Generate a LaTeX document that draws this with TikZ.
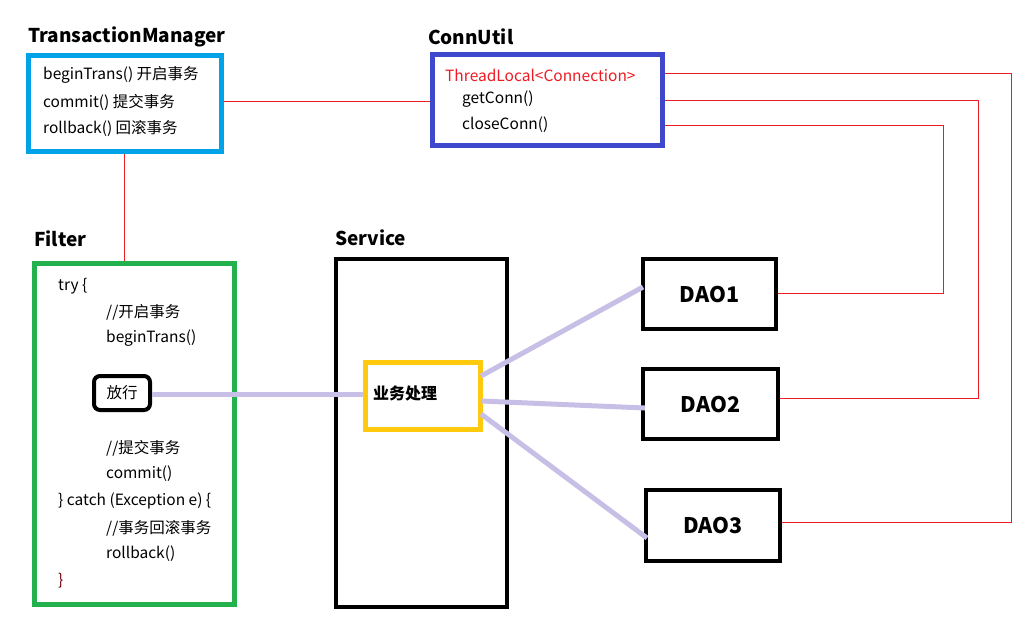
\documentclass[tikz,border=0pt]{standalone}
\usepackage{fontspec}
\setmainfont{Noto Sans CJK SC}
\usetikzlibrary{calc}
\pgfdeclarelayer{bg}
\pgfsetlayers{bg,main}
\definecolor{tmcol}{HTML}{00A2E8}
\definecolor{cucol}{HTML}{3F48CC}
\definecolor{flcol}{HTML}{22B14C}
\definecolor{bizcol}{HTML}{FFC90E}
\definecolor{purcol}{HTML}{C8BFE7}
\definecolor{redcol}{HTML}{ED1C24}
\definecolor{brcol}{HTML}{6A0010}
\tikzset{
  title/.style={anchor=west,inner sep=0pt,font=\fontsize{19}{21}\selectfont\bfseries},
  txt/.style={anchor=west,inner sep=0pt,font=\fontsize{15.5}{17}\selectfont},
  box/.style={draw,fill=white,inner sep=0pt},
  daobox/.style={box,line width=4pt,font=\fontsize{21.5}{23}\selectfont\bfseries},
  redline/.style={draw=redcol,line width=0.8pt},
  purline/.style={draw=purcol,line width=5pt},
}
\begin{document}
\begin{tikzpicture}[x=1pt,y=-1pt]
\useasboundingbox (0,0) rectangle (1035,633);
% boxes
\node[box,draw=tmcol,line width=5pt,minimum width=193pt,minimum height=96pt] (tm) at (125,103.5) {};
\node[box,draw=cucol,line width=5pt,minimum width=230pt,minimum height=91pt] (cu) at (547.5,100) {};
\node[box,draw=flcol,line width=5pt,minimum width=200pt,minimum height=341pt] (fl) at (134.5,434) {};
\node[box,draw=black,line width=4pt,minimum width=171pt,minimum height=348pt] (sv) at (421.5,433) {};
\node[box,draw=bizcol,line width=5pt,minimum width=115pt,minimum height=67pt] (biz) at (423,396) {};
\node[box,draw=black,line width=4pt,rounded corners=6pt,minimum width=56pt,minimum height=34pt,font=\fontsize{15.5}{17}\selectfont] (fx) at (122,393) {放行};
\node[daobox,minimum width=133pt,minimum height=70pt] (dao1) at (709.5,294) {DAO1};
\node[daobox,minimum width=135pt,minimum height=70pt] (dao2) at (710.5,404) {DAO2};
\node[daobox,minimum width=134pt,minimum height=71pt] (dao3) at (713,525.5) {DAO3};
% titles
\node[title] (ttm) at (28,37) {TransactionManager};
\node[title] (tcu) at (428,37) {ConnUtil};
\node[title] (tfl) at (34,239) {Filter};
\node[title] (tsv) at (335,238) {Service};
% TM text
\node[txt] (tm1) at (43,75) {beginTrans() 开启事务};
\node[txt] (tm2) at (43,102) {commit() 提交事务};
\node[txt] (tm3) at (43,128) {rollback() 回滚事务};
% ConnUtil text
\node[txt,text=redcol] (cu1) at (445,75) {ThreadLocal<Connection>};
\node[txt] (cu2) at (462,99) {getConn()};
\node[txt] (cu3) at (462,125) {closeConn()};
% Filter text
\node[txt] (f1) at (58,286) {try \{};
\node[txt] (f2) at (106,312) {//开启事务};
\node[txt] (f3) at (106,338) {beginTrans()};
\node[txt] (f4) at (106,448) {//提交事务};
\node[txt] (f5) at (106,474) {commit()};
\node[txt] (f6) at (58,501) {\} catch (Exception e) \{};
\node[txt] (f7) at (106,528) {//事务回滚事务};
\node[txt] (f8) at (106,554) {rollback()};
\node[txt,text=brcol] (f9) at (58,581) {\}};
% business
\node[anchor=west,inner sep=0pt,font=\fontsize{16}{18}\selectfont\bfseries] (bizt) at (373,393) {业务处理};
% connectors
\coordinate (r1) at (943,0);
\coordinate (r2) at (978,0);
\coordinate (r3) at (1011,0);
\begin{pgfonlayer}{bg}
\draw[redline] (tm.east |- 0,101) -- (cu.west |- 0,101);
\draw[redline] (tm.south -| 124,0) -- (fl.north -| 124,0);
\draw[redline] (cu.east |- 0,73) -| (r3 |- 0,522) -- (dao3.east |- 0,522);
\draw[redline] (cu.east |- 0,100) -| (r2 |- 0,398) -- (dao2.east |- 0,398);
\draw[redline] (cu.east |- 0,125) -| (r1 |- 0,293) -- (dao1.east |- 0,293);
\end{pgfonlayer}
\draw[purline] (fx.east |- 0,394) -- (biz.west |- 0,394);
\draw[purline] (481,376) -- (643,287);
\draw[purline] (481,401) -- (645,408);
\draw[purline] (481,414) -- (647,538);
\end{tikzpicture}
\end{document}
